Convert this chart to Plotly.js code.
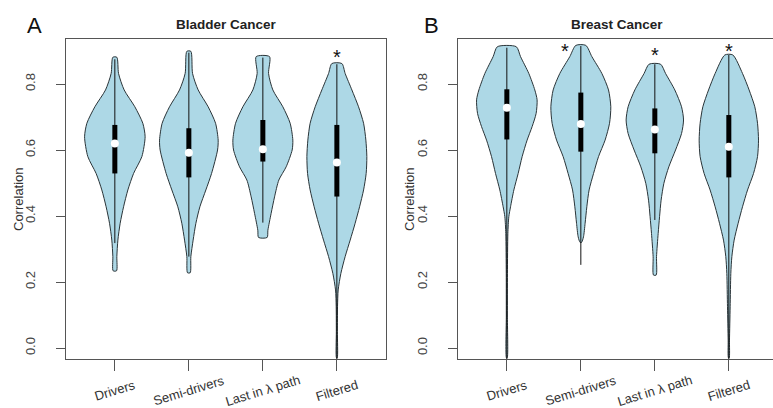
<!DOCTYPE html>
<html><head><meta charset="utf-8">
<script src="https://cdn.plot.ly/plotly-3.0.1.min.js"></script>
<style>html,body{margin:0;padding:0;background:#fff;overflow:hidden}#chart{width:773px;height:408px}</style>
</head><body><div id="chart"></div>
<script>
// ---------- data ----------
const categories = ['Drivers', 'Semi-drivers', 'Last in \u03bb path', 'Filtered'];
const panelTitles = ['Bladder Cancer', 'Breast Cancer'];
const panelLetters = ['A', 'B'];
const yTickVals = [0.0, 0.2, 0.4, 0.6, 0.8];
const yTickText = ['0.0', '0.2', '0.4', '0.6', '0.8'];

// violin outlines: correlation level (top to bottom) and half width (category units)
const bladderDriversLevels = [0.881, 0.832, 0.782, 0.731, 0.681, 0.640, 0.580, 0.529, 0.479, 0.428, 0.378, 0.327, 0.277, 0.234];
const bladderDriversWidths = [0.027, 0.050, 0.126, 0.270, 0.378, 0.409, 0.365, 0.253, 0.176, 0.118, 0.072, 0.041, 0.027, 0.023];
const bladderSemiLevels = [0.899, 0.832, 0.782, 0.731, 0.681, 0.630, 0.600, 0.529, 0.479, 0.428, 0.378, 0.327, 0.277, 0.228];
const bladderSemiWidths = [0.027, 0.050, 0.126, 0.261, 0.361, 0.396, 0.388, 0.307, 0.230, 0.149, 0.095, 0.058, 0.027, 0.018];
const bladderLastLevels = [0.883, 0.832, 0.782, 0.731, 0.681, 0.630, 0.600, 0.549, 0.509, 0.458, 0.408, 0.357, 0.335];
const bladderLastWidths = [0.090, 0.077, 0.135, 0.270, 0.369, 0.405, 0.396, 0.315, 0.216, 0.158, 0.112, 0.068, 0.058];
const bladderFilteredLevels = [0.862, 0.832, 0.782, 0.731, 0.681, 0.630, 0.580, 0.529, 0.479, 0.428, 0.378, 0.327, 0.277, 0.226, 0.176, 0.125, 0.050, -0.030];
const bladderFilteredWidths = [0.068, 0.112, 0.203, 0.293, 0.361, 0.392, 0.405, 0.396, 0.361, 0.307, 0.247, 0.180, 0.112, 0.054, 0.018, 0.009, 0.007, 0.005];

const breastDriversLevels = [0.913, 0.883, 0.832, 0.782, 0.752, 0.711, 0.671, 0.630, 0.580, 0.529, 0.479, 0.428, 0.398, 0.347, 0.226, 0.100, -0.030];
const breastDriversWidths = [0.128, 0.185, 0.297, 0.378, 0.409, 0.396, 0.342, 0.274, 0.207, 0.153, 0.095, 0.050, 0.027, 0.014, 0.008, 0.007, 0.005];
const breastSemiLevels = [0.917, 0.883, 0.832, 0.782, 0.731, 0.681, 0.630, 0.580, 0.529, 0.479, 0.428, 0.378, 0.337, 0.320];
const breastSemiWidths = [0.068, 0.149, 0.284, 0.374, 0.405, 0.388, 0.328, 0.239, 0.172, 0.112, 0.081, 0.058, 0.036, 0.010];
const breastLastLevels = [0.860, 0.832, 0.782, 0.731, 0.691, 0.650, 0.600, 0.549, 0.499, 0.448, 0.398, 0.347, 0.277, 0.221];
const breastLastWidths = [0.078, 0.145, 0.270, 0.361, 0.388, 0.361, 0.280, 0.189, 0.122, 0.085, 0.064, 0.045, 0.023, 0.018];
const breastFilteredLevels = [0.888, 0.832, 0.782, 0.731, 0.681, 0.630, 0.580, 0.529, 0.479, 0.428, 0.378, 0.327, 0.277, 0.226, 0.125, 0.024, -0.030];
const breastFilteredWidths = [0.054, 0.185, 0.274, 0.351, 0.388, 0.401, 0.388, 0.334, 0.253, 0.185, 0.126, 0.072, 0.041, 0.027, 0.018, 0.009, 0.005];

// box statistics
const bladderQ1 = [0.529, 0.517, 0.565, 0.459];
const bladderMedian = [0.620, 0.592, 0.602, 0.562];
const bladderQ3 = [0.676, 0.666, 0.691, 0.676];
const bladderWhiskerLow = [0.318, 0.277, 0.380, -0.06];
const bladderWhiskerHigh = [0.875, 0.895, 0.880, 0.860];
const breastQ1 = [0.632, 0.595, 0.590, 0.517];
const breastMedian = [0.728, 0.679, 0.662, 0.610];
const breastQ3 = [0.784, 0.774, 0.726, 0.706];
const breastWhiskerLow = [-0.06, 0.252, 0.388, -0.06];
const breastWhiskerHigh = [0.910, 0.915, 0.860, 0.888];

// significance marks
const bladderStars = ['', '', '', '*'];
const bladderStarLevels = [null, null, null, 0.898];
const breastStars = ['', '*', '*', '*'];
const breastStarLevels = [null, 0.915, 0.903, 0.915];
const breastStarShift = [0, -0.21, 0, 0];

// ---------- drawing ----------
const FILL = '#ADD8E6';
const OUTLINE = '#2a3438';
const FONT = 'Liberation Sans, Arial, Helvetica, sans-serif';
const traces = [];
const annotations = [];

function addPanel(xa, ya, levelsList, widthsList, q1, med, q3, wLo, wHi, stars, starLevels, starShift) {
  levelsList.forEach((lv, i) => {
    const c = i + 1, w = widthsList[i];
    const xs = [], ys = [];
    lv.forEach((v, k) => { xs.push(c - w[k]); ys.push(v); });
    for (let k = lv.length - 1; k >= 0; k--) { xs.push(c + w[k]); ys.push(lv[k]); }
    xs.push(xs[0]); ys.push(ys[0]);
    traces.push({type: 'scatter', mode: 'lines', x: xs, y: ys, xaxis: xa, yaxis: ya,
      fill: 'toself', fillcolor: FILL, line: {color: OUTLINE, width: 1, shape: 'spline', smoothing: 0.7},
      hoverinfo: 'skip', showlegend: false});
  });
  categories.forEach((cat, i) => {
    const c = i + 1;
    traces.push({type: 'scatter', mode: 'lines', x: [c, c], y: [wLo[i], wHi[i]], xaxis: xa, yaxis: ya,
      line: {color: '#111', width: 1}, hoverinfo: 'skip', showlegend: false});
    traces.push({type: 'scatter', mode: 'lines', x: [c, c], y: [q1[i], q3[i]], xaxis: xa, yaxis: ya,
      line: {color: '#000', width: 5}, hoverinfo: 'skip', showlegend: false});
    if (stars[i]) {
      annotations.push({xref: xa, yref: ya, x: c + (starShift ? starShift[i] : 0), y: starLevels[i], text: stars[i],
        showarrow: false, xanchor: 'center', yanchor: 'middle', yshift: -5,
        font: {size: 20, color: '#111', family: FONT}});
    }
  });
  traces.push({type: 'scatter', mode: 'markers', x: categories.map((_, i) => i + 1), y: med, xaxis: xa, yaxis: ya,
    marker: {color: '#fff', size: 8, line: {width: 0}}, hoverinfo: 'skip', showlegend: false});
}

addPanel('x', 'y',
  [bladderDriversLevels, bladderSemiLevels, bladderLastLevels, bladderFilteredLevels],
  [bladderDriversWidths, bladderSemiWidths, bladderLastWidths, bladderFilteredWidths],
  bladderQ1, bladderMedian, bladderQ3, bladderWhiskerLow, bladderWhiskerHigh, bladderStars, bladderStarLevels, null);
addPanel('x2', 'y2',
  [breastDriversLevels, breastSemiLevels, breastLastLevels, breastFilteredLevels],
  [breastDriversWidths, breastSemiWidths, breastLastWidths, breastFilteredWidths],
  breastQ1, breastMedian, breastQ3, breastWhiskerLow, breastWhiskerHigh, breastStars, breastStarLevels, breastStarShift);

const W = 773, H = 408;
const yDom = [(H - 359) / H, (H - 39) / H];
const yRange = [-0.0333, 0.9364];
const axisLine = '#555';

function xAxis(dom, range, anchor) {
  return {domain: dom, range: range, anchor: anchor, tickmode: 'array', tickvals: [1, 2, 3, 4],
    showticklabels: false, ticks: 'outside', ticklen: 11, tickcolor: axisLine, tickwidth: 1,
    showline: true, mirror: true, linecolor: axisLine, linewidth: 1, showgrid: false, zeroline: false, fixedrange: true};
}
function yAxis(anchor, mirror) {
  return {domain: yDom, range: yRange, anchor: anchor, tickmode: 'array', tickvals: yTickVals, ticktext: yTickText,
    ticks: 'outside', ticklen: 9, tickcolor: axisLine, tickwidth: 1, tickangle: -90,
    tickfont: {size: 13, color: '#444', family: FONT}, ticklabelstandoff: 16,
    showline: true, mirror: mirror, linecolor: axisLine, linewidth: 1, showgrid: false, zeroline: false, fixedrange: true};
}

const panels = [{xa: 'x', center: 226, letterX: 34, corrX: 18}, {xa: 'x2', center: 617, letterX: 431, corrX: 409}];
panels.forEach((p, pi) => {
  annotations.push({xref: 'paper', yref: 'paper', x: p.letterX / W, y: (H - 25) / H, text: panelLetters[pi],
    showarrow: false, xanchor: 'center', yanchor: 'middle', font: {size: 22, color: '#111', family: FONT}});
  annotations.push({xref: 'paper', yref: 'paper', x: p.center / W, y: (H - 24) / H, text: '<b>' + panelTitles[pi] + '</b>',
    showarrow: false, xanchor: 'center', yanchor: 'middle', font: {size: 13.5, color: '#222', family: FONT}});
  annotations.push({xref: 'paper', yref: 'paper', x: p.corrX / W, y: (H - 199) / H, text: 'Correlation', textangle: -90,
    showarrow: false, xanchor: 'center', yanchor: 'middle', font: {size: 13, color: '#333', family: FONT}});
  categories.forEach((cat, i) => {
    annotations.push({xref: p.xa, yref: 'paper', x: i + 1, y: (H - 390) / H, text: cat, textangle: -17,
      showarrow: false, xanchor: 'center', yanchor: 'middle', font: {size: 13, color: '#333', family: FONT}});
  });
});

const layout = {
  width: W, height: H, margin: {l: 0, r: 0, t: 0, b: 0},
  paper_bgcolor: '#fff', plot_bgcolor: '#fff', showlegend: false,
  font: {family: FONT},
  xaxis: xAxis([66 / W, 386 / W], [0.34, 4.664], 'y'),
  yaxis: yAxis('x', true),
  xaxis2: xAxis([458 / W, 1], [0.34, 4.597], 'y2'),
  yaxis2: yAxis('x2', false),
  annotations: annotations
};

Plotly.newPlot('chart', traces, layout, {staticPlot: true, displayModeBar: false});
</script>
</body></html>
